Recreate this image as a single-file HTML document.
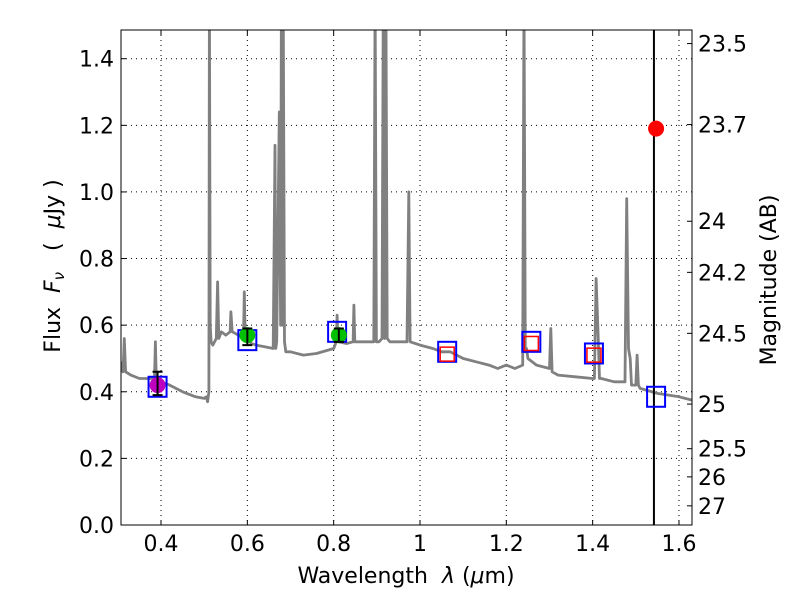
<!DOCTYPE html>
<html><head><meta charset="utf-8"><style>
body{margin:0;background:#fff}
svg{font-family:"DejaVu Sans","Liberation Sans",sans-serif}
text{white-space:pre}
</style></head><body>
<svg id="chart" width="800" height="600" viewBox="0 0 800 600"></svg>
<script>
// spectrum data [wavelength µm, flux µJy]
const specWl = [0.307,0.312,0.315,0.318,0.33,0.35,0.37,0.385,0.387,0.389,0.40,0.42,0.45,0.48,0.50,0.505,0.508,0.511,0.512,0.514,0.516,0.52,0.528,0.531,0.534,0.54,0.55,0.56,0.562,0.565,0.58,0.591,0.593,0.595,0.61,0.62,0.64,0.66,0.664,0.666,0.668,0.674,0.677,0.679,0.681,0.683,0.686,0.689,0.692,0.70,0.73,0.76,0.80,0.806,0.808,0.81,0.83,0.845,0.847,0.849,0.87,0.893,0.896,0.899,0.905,0.912,0.915,0.918,0.921,0.924,0.93,0.95,0.970,0.974,0.977,1.0,1.03,1.05,1.07,1.1,1.13,1.16,1.18,1.2,1.22,1.238,1.241,1.244,1.247,1.25,1.27,1.3,1.303,1.306,1.32,1.36,1.4,1.404,1.408,1.412,1.416,1.42,1.45,1.46,1.475,1.479,1.483,1.487,1.49,1.50,1.503,1.506,1.51,1.55,1.60,1.63];
const specFlux = [0.49,0.46,0.56,0.46,0.45,0.44,0.44,0.44,0.55,0.435,0.43,0.42,0.40,0.385,0.38,0.385,0.37,0.40,1.6,0.6,0.55,0.54,0.56,0.73,0.56,0.58,0.57,0.58,0.64,0.58,0.57,0.56,0.70,0.56,0.545,0.54,0.535,0.53,1.14,0.53,0.55,1.24,0.6,1.6,0.6,1.6,0.55,0.52,0.52,0.52,0.51,0.515,0.53,0.55,0.63,0.55,0.545,0.55,0.66,0.55,0.55,0.55,1.6,0.55,0.55,0.56,1.6,0.56,1.6,0.56,0.55,0.55,0.55,1.0,0.55,0.54,0.53,0.52,0.52,0.50,0.49,0.48,0.47,0.48,0.47,0.48,1.6,0.52,0.53,0.50,0.48,0.47,0.59,0.46,0.45,0.445,0.44,0.44,0.74,0.60,0.44,0.44,0.43,0.43,0.43,0.98,0.53,0.50,0.42,0.42,0.51,0.42,0.41,0.395,0.385,0.375];
// photometry
const photWl = [0.392,0.6,0.812];
const photFlux = [0.42,0.57,0.57];
const photErrLo = [0.39,0.54,0.55];
const photErrHi = [0.46,0.59,0.59];
const photColor = ['#bf00bf','#00c000','#00c000'];
const modelWl = [0.392,0.6,0.808,1.063,1.258,1.403,1.547];
const modelFlux = [0.415,0.555,0.58,0.52,0.55,0.515,0.385];
const predWl = [1.063,1.258,1.403];
const predFlux = [0.513,0.545,0.51];
const redWl = [1.547];
const redFlux = [1.19];
const vlineWl = 1.542;
const xTicks = [0.4,0.6,0.8,1.0,1.2,1.4,1.6];
const xTickLabels = ['0.4','0.6','0.8','1','1.2','1.4','1.6'];
const yTicks = [0,0.2,0.4,0.6,0.8,1.0,1.2,1.4];
const yTickLabels = ['0.0','0.2','0.4','0.6','0.8','1.0','1.2','1.4'];
const magTicks = [23.5,23.7,24,24.2,24.5,25,25.5,26,27];
const magLabels = ['23.5','23.7','24','24.2','24.5','25','25.5','26','27'];

const L=121,R=692,T=30,B=525;
const X0=0.3073,X1=1.6302,Y0=0,Y1=1.4862;
const sx=v=>L+(v-X0)/(X1-X0)*(R-L);
const sy=v=>B-(v-Y0)/(Y1-Y0)*(B-T);
const svg=document.getElementById('chart');
const NS='http://www.w3.org/2000/svg';
function mk(tag,attrs,parent){const e=document.createElementNS(NS,tag);for(const k in attrs)e.setAttribute(k,attrs[k]);(parent||svg).appendChild(e);return e;}

const defs=mk('defs',{});
const cp=mk('clipPath',{id:'clip'},defs);mk('rect',{x:L,y:T,width:R-L,height:B-T},cp);

// grid
const grid=mk('g',{});


xTicks.forEach(t=>mk('line',{x1:sx(t),x2:sx(t),y1:T,y2:B,stroke:'#000','stroke-width':1,'stroke-dasharray':'1,4'},grid));
yTicks.forEach(t=>mk('line',{x1:L,x2:R,y1:sy(t),y2:sy(t),stroke:'#000','stroke-width':1,'stroke-dasharray':'1,4'},grid));

// spectrum
const pg=mk('g',{'clip-path':'url(#clip)'});
let d=specWl.map((w,i)=>(i?'L':'M')+sx(w).toFixed(1)+','+sy(specFlux[i]).toFixed(1)).join('');
const sp=mk('path',{d:d,fill:'none',stroke:'#808080','stroke-width':2.8,'stroke-linejoin':'round'},pg);



// vertical line
const vl=mk('line',{x1:sx(vlineWl),x2:sx(vlineWl),y1:T,y2:B,stroke:'#000','stroke-width':2},pg);



// model squares
modelWl.forEach((w,i)=>{const r=mk('rect',{x:sx(w)-9,y:sy(modelFlux[i])-10,width:18,height:20,fill:'none',stroke:'#0000ff','stroke-width':2},pg);

});
predWl.forEach((w,i)=>{const r=mk('rect',{x:sx(w)-7,y:sy(predFlux[i])-7,width:14,height:14,fill:'none',stroke:'#ff0000','stroke-width':1.5},pg);

});
// photometry points
photWl.forEach((w,i)=>{const c=mk('circle',{cx:sx(w),cy:sy(photFlux[i]),r:8,fill:photColor[i]},pg);


const x=sx(w),y1=sy(photErrLo[i]),y2=sy(photErrHi[i]);
const e=mk('path',{d:`M${x},${y1}V${y2}M${x-5},${y1}H${x+5}M${x-5},${y2}H${x+5}`,stroke:'#000','stroke-width':2,fill:'none'},pg);

});
redWl.forEach((w,i)=>{const c=mk('circle',{cx:sx(w),cy:sy(redFlux[i]),r:8,fill:'#ff0000'},pg);

});

// frame
const fr=mk('rect',{x:L,y:T,width:R-L,height:B-T,fill:'none',stroke:'#000','stroke-width':1});



// ticks
xTicks.forEach((t,i)=>{mk('line',{x1:sx(t),x2:sx(t),y1:B,y2:B-5,stroke:'#000'});mk('line',{x1:sx(t),x2:sx(t),y1:T,y2:T+5,stroke:'#000'});
const tx=mk('text',{x:sx(t),y:B+26,'font-size':22,'text-anchor':'middle'});tx.textContent=xTickLabels[i];

});
yTicks.forEach((t,i)=>{mk('line',{x1:L,x2:L+5,y1:sy(t),y2:sy(t),stroke:'#000'});
const tx=mk('text',{x:L-7,y:sy(t)+8,'font-size':22,'text-anchor':'end'});tx.textContent=yTickLabels[i];

});
magTicks.forEach((m,i)=>{const f=Math.pow(10,(23.9-m)/2.5);const y=sy(f);
mk('line',{x1:R-5,x2:R,y1:y,y2:y,stroke:'#000'});
const tx=mk('text',{x:R+6,y:y+8,'font-size':22});tx.textContent=magLabels[i];

});

// axis titles
const xt=mk('text',{x:406,y:583,'font-size':22,'text-anchor':'middle'});
xt.innerHTML='Wavelength  <tspan font-style="italic">λ</tspan> (<tspan font-style="italic">μ</tspan>m)';


const yt=mk('text',{x:0,y:0,'font-size':22,'text-anchor':'middle',transform:'translate(60,266) rotate(-90)'});
yt.innerHTML='Flux  <tspan font-style="italic">F</tspan><tspan font-style="italic" font-size="15" dy="4">ν</tspan><tspan dy="-4">   (  </tspan><tspan font-style="italic">μ</tspan>Jy )';


const rt=mk('text',{x:0,y:0,'font-size':22,'text-anchor':'middle',transform:'translate(776,280) rotate(-90)'});
rt.textContent='Magnitude (AB)';


</script>
</body></html>
